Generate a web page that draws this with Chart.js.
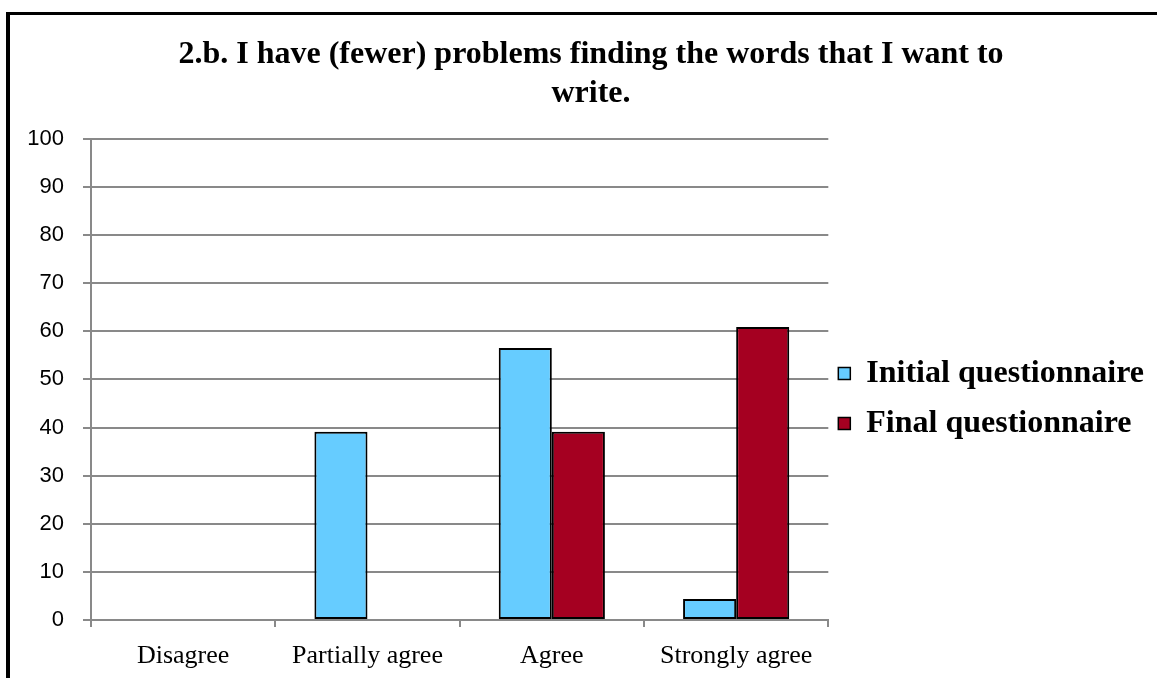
<!DOCTYPE html>
<html>
<head>
<meta charset="utf-8">
<title>2.b. I have (fewer) problems finding the words that I want to write.</title>
<script src="https://cdn.jsdelivr.net/npm/chart.js@4.4.0/dist/chart.umd.min.js"></script>
<style>
  html, body { margin: 0; padding: 0; background: #fff; overflow: hidden; }
  #frame {
    position: absolute; left: 6px; top: 12px;
    width: 1151px; height: 666px; overflow: hidden;
    border-left: 4px solid #000; border-top: 3px solid #000;
  }
  #chart { position: absolute; left: 0; top: 0; }
</style>
</head>
<body>
<div id="frame"><canvas id="chart" width="1144" height="663"></canvas></div>
<script>
// answers and percentages per questionnaire
var answers = ['Disagree', 'Partially agree', 'Agree', 'Strongly agree'];
var initialQ = [0, 39.13, 56.52, 4.35];
var finalQ = [0, 0, 39.13, 60.87];
var yTicks = [0, 10, 20, 30, 40, 50, 60, 70, 80, 90, 100];

var serif = '"Liberation Serif", "Times New Roman", serif';
var sans = '"Liberation Sans", Arial, sans-serif';
var gridGrey = '#898989';

// no outline on empty bars
function barBorder(ctx) {
    return ctx.raw === 0 ? 0 : 2;
}

var ctx = document.getElementById('chart').getContext('2d');
var myChart = new Chart(ctx, {
    type: 'bar',
    data: {
        labels: answers,
        datasets: [{
            label: 'Initial questionnaire',
            data: initialQ,
            backgroundColor: '#66CCFF',
            borderColor: '#000',
            borderWidth: barBorder,
            borderSkipped: false
        }, {
            label: 'Final questionnaire',
            data: finalQ,
            backgroundColor: '#A50021',
            borderColor: '#000',
            borderWidth: barBorder,
            borderSkipped: false
        }]
    },
    options: {
        responsive: false,
        animation: false,
        datasets: {
            bar: { categoryPercentage: 0.576, barPercentage: 1 }
        },
        layout: { padding: { left: 18, right: 0, top: 0, bottom: 0 } },
        plugins: {
            title: {
                display: true,
                text: ['2.b. I have (fewer) problems finding the words that I want to', 'write.'],
                color: '#000',
                font: { family: serif, size: 32, weight: 'bold', lineHeight: 1.2 },
                padding: { top: 21, bottom: 26 }
            },
            legend: {
                position: 'right',
                align: 'center',
                maxWidth: 500,
                // empty title only pushes the entries down a bit
                title: { display: true, text: '', font: { size: 10, lineHeight: 1.2 }, padding: { top: 100, bottom: 0 } },
                labels: {
                    color: '#000',
                    boxWidth: 12,
                    boxHeight: 12,
                    padding: 10,
                    font: { family: serif, size: 32, weight: 'bold', lineHeight: 1.25 },
                    // label text as a one-line array so the row height follows the font line height
                    generateLabels: function(chart) {
                        var items = Chart.defaults.plugins.legend.labels.generateLabels(chart);
                        items.forEach(function(it) {
                            it.text = [it.text];
                            it.lineWidth = 1.5;
                            it.strokeStyle = '#000';
                        });
                        return items;
                    }
                }
            },
            tooltip: { enabled: false }
        },
        scales: {
            x: {
                offset: true,
                grid: {
                    offset: true,
                    drawOnChartArea: false,
                    drawTicks: true,
                    tickLength: 7,
                    color: gridGrey,
                    lineWidth: 2
                },
                border: { color: gridGrey, width: 2 },
                ticks: {
                    color: '#000',
                    padding: 14,
                    font: { family: serif, size: 26 }
                },
                afterFit: function(scale) { scale.height = 58; }
            },
            y: {
                min: 0,
                max: 100,
                afterBuildTicks: function(scale) {
                    scale.ticks = yTicks.map(function(v) { return { value: v }; });
                },
                grid: {
                    color: gridGrey,
                    lineWidth: 2,
                    tickLength: 8
                },
                border: { color: gridGrey, width: 2 },
                ticks: {
                    color: '#000',
                    padding: 19,
                    font: { family: sans, size: 22 }
                },
                afterFit: function(scale) { scale.width = 63; }
            }
        }
    }
});
</script>
</body>
</html>
